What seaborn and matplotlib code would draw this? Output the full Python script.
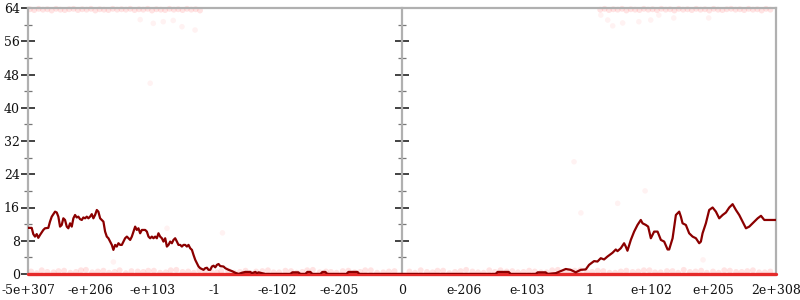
import matplotlib
matplotlib.use("Agg")
import matplotlib.pyplot as plt
from matplotlib.ticker import MultipleLocator
import seaborn as sns
import pandas as pd

# ---- data (x in tick-slot units: 0 = -5e+307 ... 6 = 0 ... 12 = 2e+308) ----
tick_labels = ["-5e+307", "-e+206", "-e+103", "-1", "-e-102", "-e-205", "0",
               "e-206", "e-103", "1", "e+102", "e+205", "2e+308"]

line_x = [0.000, 0.059, 0.085, 0.112, 0.140, 0.165, 0.193, 0.220, 0.246, 0.273,
          0.326, 0.353, 0.381, 0.434, 0.461, 0.487, 0.514, 0.541, 0.567, 0.594,
          0.622, 0.647, 0.675, 0.702, 0.728, 0.755, 0.782, 0.808, 0.835, 0.863,
          0.888, 0.916, 0.943, 0.969, 0.996, 1.023, 1.049, 1.076, 1.104, 1.129,
          1.157, 1.210, 1.237, 1.264, 1.290, 1.317, 1.345, 1.370, 1.398, 1.424,
          1.451, 1.478, 1.505, 1.531, 1.558, 1.586, 1.639, 1.666, 1.692, 1.719,
          1.746, 1.772, 1.799, 1.827, 1.880, 1.907, 1.933, 1.960, 1.987, 2.013,
          2.040, 2.067, 2.093, 2.120, 2.148, 2.173, 2.201, 2.228, 2.254, 2.281,
          2.308, 2.334, 2.361, 2.389, 2.414, 2.442, 2.469, 2.495, 2.522, 2.549,
          2.575, 2.602, 2.630, 2.655, 2.683, 2.710, 2.736, 2.763, 2.816, 2.843,
          2.871, 2.896, 2.924, 2.951, 2.977, 3.004, 3.031, 3.057, 3.084, 3.137,
          3.165, 3.218, 3.272, 3.325, 3.378, 3.432, 3.486, 3.566, 3.593, 3.647,
          3.674, 3.700, 3.754, 3.807, 4.209, 4.241, 4.337, 4.369, 4.450, 4.482,
          4.530, 4.562, 4.691, 4.723, 4.771, 4.803, 5.108, 5.141, 5.285, 5.317,
          6.000, 7.502, 7.534, 7.711, 7.743, 8.145, 8.177, 8.305, 8.337, 8.466,
          8.546, 8.627, 8.707, 8.787, 8.867, 8.948, 9.001, 9.081, 9.136, 9.189,
          9.242, 9.296, 9.377, 9.430, 9.457, 9.510, 9.563, 9.590, 9.617, 9.671,
          9.724, 9.778, 9.831, 9.859, 9.912, 9.949, 9.992, 10.045, 10.100, 10.153,
          10.206, 10.261, 10.286, 10.341, 10.394, 10.447, 10.474, 10.501, 10.554, 10.607,
          10.662, 10.715, 10.768, 10.795, 10.822, 10.875, 10.928, 10.983, 11.036, 11.089,
          11.144, 11.197, 11.250, 11.304, 11.357, 11.410, 11.465, 11.518, 11.571, 11.626,
          11.706, 11.759, 11.812, 11.871, 12.000]
line_y = [11.1, 11.1, 9.6, 9.0, 9.6, 8.7, 9.4, 10.0, 10.6, 11.0,
          11.1, 12.6, 13.8, 15.0, 14.8, 13.8, 11.4, 11.8, 13.4, 13.0,
          11.4, 11.0, 12.2, 11.4, 13.4, 14.2, 13.6, 13.8, 13.2, 13.0,
          13.6, 13.4, 13.8, 13.4, 13.8, 14.4, 13.4, 14.2, 15.4, 15.0,
          13.4, 12.6, 10.2, 9.0, 8.6, 7.8, 7.0, 5.8, 7.0, 6.6,
          7.4, 7.0, 7.0, 7.8, 8.6, 9.0, 8.2, 9.0, 10.2, 11.4,
          10.6, 11.0, 9.8, 10.6, 10.6, 10.2, 9.0, 8.6, 9.0, 8.6,
          9.0, 8.6, 9.8, 9.0, 8.6, 7.8, 8.6, 6.6, 7.0, 7.8,
          7.4, 8.2, 8.6, 7.8, 7.0, 7.0, 6.6, 7.0, 7.0, 6.6,
          7.0, 6.2, 5.8, 4.6, 3.4, 2.6, 1.8, 1.4, 1.0, 1.4,
          1.5, 1.0, 1.0, 1.8, 2.0, 1.6, 2.2, 2.4, 1.9, 1.8,
          1.4, 1.0, 0.7, 0.3, 0.0, 0.3, 0.5, 0.5, 0.2, 0.5,
          0.2, 0.4, 0.2, 0.0, 0.0, 0.4, 0.4, 0.0, 0.0, 0.5,
          0.5, 0.0, 0.0, 0.5, 0.5, 0.0, 0.0, 0.5, 0.5, 0.0,
          0.0, 0.0, 0.5, 0.5, 0.0, 0.0, 0.4, 0.4, 0.0, 0.2,
          0.7, 1.2, 1.0, 0.4, 1.0, 1.1, 2.2, 3.1, 3.0, 3.8,
          3.5, 4.2, 5.1, 5.9, 5.5, 6.2, 7.4, 6.6, 5.6, 8.2,
          10.2, 11.8, 13.0, 12.2, 11.8, 11.4, 8.6, 10.2, 10.2, 8.2,
          7.8, 5.9, 5.9, 8.6, 14.2, 15.0, 13.8, 12.2, 11.8, 9.8,
          9.0, 8.6, 7.4, 7.8, 9.8, 12.2, 15.4, 16.0, 15.0, 13.4,
          14.2, 14.8, 16.0, 16.8, 15.4, 14.2, 12.6, 11.0, 11.4, 12.2,
          13.4, 14.0, 13.0, 13.0, 13.0]

# faint background samples near zero
bottom_x = [0.05, 0.14, 0.22, 0.31, 0.41, 0.49, 0.58, 0.68, 0.77, 0.85, 0.93,
            1.03, 1.12, 1.21, 1.30, 1.39, 1.47, 1.57, 1.66, 1.76, 1.85, 1.93,
            2.02, 2.12, 2.21, 2.29, 2.38, 2.48, 2.57, 2.66, 2.75, 2.84, 2.94,
            3.03, 3.10, 3.21, 3.31, 3.40, 3.49, 3.57, 3.66, 3.76, 3.85, 3.94,
            4.03, 4.13, 4.22, 4.31, 4.40, 4.48, 4.57, 4.68, 4.78, 4.86, 4.95,
            5.05, 5.14, 5.24, 5.33, 5.41, 5.50, 5.60, 5.70, 5.79, 5.88,
            6.12, 6.21, 6.30, 6.40, 6.49, 6.57, 6.66, 6.76, 6.85, 6.94,
            7.03, 7.13, 7.22, 7.31, 7.40, 7.49, 7.58, 7.68, 7.77, 7.86, 7.95,
            8.04, 8.13, 8.23, 8.32, 8.41, 8.50, 8.60, 8.69, 8.77, 8.86, 8.96,
            9.05, 9.14, 9.23, 9.33, 9.42, 9.51, 9.60, 9.70, 9.79, 9.88, 9.97,
            10.06, 10.15, 10.25, 10.34, 10.43, 10.52, 10.62, 10.71, 10.80, 10.89,
            10.99, 11.08, 11.17, 11.26, 11.36, 11.45, 11.54, 11.63, 11.73, 11.82, 11.91]
bottom_y = [0.6, 0.2, 0.9, 0.5, 0.4, 0.7, 0.8, 0.3, 0.5, 0.9, 1.0,
            0.4, 0.6, 0.8, 0.3, 0.5, 0.9, 0.2, 0.7, 0.6, 0.5, 0.8,
            0.8, 0.3, 0.4, 0.9, 1.0, 0.5, 0.6, 0.3, 0.9, 0.6, 0.5,
            0.4, 0.7, 0.8, 0.3, 0.5, 0.8, 0.2, 0.6, 0.7, 0.9, 0.4,
            0.4, 0.8, 0.7, 0.3, 0.5, 0.9, 1.0, 0.4, 0.6, 0.5, 0.3,
            0.7, 0.8, 0.4, 0.5, 0.9, 0.9, 0.3, 0.4, 0.6, 0.7,
            0.6, 0.3, 0.9, 0.5, 0.4, 0.8, 0.8, 0.2, 0.5, 0.7, 1.0,
            0.6, 0.4, 0.3, 0.9, 0.5, 0.9, 0.6, 0.7, 0.4, 0.5,
            0.8, 0.6, 0.4, 0.4, 0.9, 1.0, 0.3, 0.6, 0.8, 0.9, 0.5,
            0.5, 0.8, 0.7, 0.3, 0.3, 0.6, 0.8, 0.5, 0.6, 0.9, 0.9,
            0.4, 0.4, 0.7, 0.7, 0.3, 1.0, 0.5, 0.6, 0.8, 0.3,
            0.6, 0.3, 0.9, 0.8, 0.5, 0.5, 0.7, 0.9, 0.4, 0.4, 0.6]

# faint background samples near 64
top_x = [0.03, 0.10, 0.17, 0.24, 0.31, 0.38, 0.45, 0.52, 0.59, 0.66, 0.73,
         0.80, 0.87, 0.94, 1.01, 1.08, 1.15, 1.22, 1.29, 1.36, 1.43, 1.50,
         1.57, 1.64, 1.71, 1.78, 1.85, 1.92, 1.99, 2.06, 2.13, 2.20, 2.27,
         2.34, 2.41, 2.48, 2.55, 2.62, 2.69, 2.76,
         9.18, 9.25, 9.32, 9.39, 9.46, 9.53, 9.60, 9.67, 9.74, 9.81, 9.88,
         9.95, 10.02, 10.09, 10.16, 10.23, 10.30, 10.37, 10.44, 10.51, 10.58,
         10.65, 10.72, 10.79, 10.86, 10.93, 11.00, 11.07, 11.14, 11.21, 11.28,
         11.35, 11.42, 11.49, 11.56, 11.63, 11.70, 11.77, 11.84, 11.91]
top_y = [63.7, 63.5, 63.8, 63.6, 63.7, 63.4, 63.8, 63.6, 63.5, 63.7, 63.8,
         63.5, 63.7, 63.6, 63.8, 63.4, 63.7, 63.6, 63.5, 63.8, 63.6, 63.7,
         63.6, 63.8, 63.5, 63.7, 63.6, 63.8, 63.4, 63.7, 63.6, 63.5, 63.8,
         63.6, 63.7, 63.5, 63.8, 63.6, 63.7, 63.4,
         63.6, 63.8, 63.5, 63.7, 63.6, 63.8, 63.4, 63.7, 63.6, 63.5, 63.8,
         63.6, 63.7, 63.5, 63.8, 63.6, 63.7, 63.4, 63.8, 63.6, 63.7,
         63.5, 63.8, 63.6, 63.7, 63.4, 63.8, 63.6, 63.5, 63.7, 63.8,
         63.6, 63.7, 63.5, 63.8, 63.6, 63.7, 63.4, 63.8, 63.6]

# sparse isolated samples
sparse_x = [1.80, 2.01, 2.17, 2.33, 2.47, 2.68, 1.96, 1.37, 2.23, 3.12,
            9.19, 9.30, 9.38, 9.54, 9.80, 9.99, 10.12, 10.36, 10.92,
            8.87, 9.46, 10.83, 9.90, 8.76]
sparse_y = [61.2, 60.3, 60.7, 61.0, 59.5, 58.7, 45.9, 2.9, 11.0, 9.9,
            62.3, 61.1, 59.7, 60.4, 60.7, 61.1, 62.3, 61.6, 61.6,
            14.7, 17.0, 3.4, 20.0, 27.0]

# ---- figure ----
sns.set_style("white")
plt.rcParams["font.family"] = ["DejaVu Serif"]

fig = plt.figure(figsize=(8, 3), dpi=100)
ax = fig.add_axes([28 / 800, 26 / 300, 748 / 800, 266 / 300])

pink = "#ff2a2a"
band = pd.DataFrame({"x": bottom_x + top_x, "y": bottom_y + top_y})
sns.scatterplot(data=band, x="x", y="y", ax=ax, color=pink, alpha=0.13,
                s=18, edgecolor="none", zorder=2, clip_on=False)
sparse = pd.DataFrame({"x": sparse_x, "y": sparse_y})
sns.scatterplot(data=sparse, x="x", y="y", ax=ax, color=pink, alpha=0.06,
                s=16, edgecolor="none", zorder=2)

ax.axhline(0, color="#e52a2a", lw=2.4, zorder=3, clip_on=False)

df = pd.DataFrame({"x": line_x, "y": line_y})
sns.lineplot(data=df, x="x", y="y", ax=ax, color="#8b0000", lw=1.6,
             zorder=4, sort=False)

ax.set_xlim(0, 12)
ax.set_ylim(0, 64)
ax.set_xlabel("")
ax.set_ylabel("")

spine_col = "#b0b0b0"
for side in ["left", "right", "top"]:
    ax.spines[side].set_color(spine_col)
    ax.spines[side].set_linewidth(1.6)
ax.spines["bottom"].set_visible(False)

ax.set_xticks(range(13))
ax.set_xticklabels(tick_labels)
ax.yaxis.set_major_locator(MultipleLocator(8))
ax.yaxis.set_minor_locator(MultipleLocator(4))

ax.tick_params(axis="x", direction="in", length=6, width=1.0, color="#222222",
               labelsize=9, pad=7, labelcolor="#111111")
ax.tick_params(axis="y", which="major", direction="inout", length=10, width=1.1,
               color="#111111", labelsize=9, pad=1, right=True, labelcolor="#111111")
ax.tick_params(axis="y", which="minor", direction="inout", length=6, width=0.9,
               color="#777777", right=True)

# centre axis at x = 0
axc = ax.twinx()
axc.set_ylim(0, 64)
for side in ["left", "top", "bottom"]:
    axc.spines[side].set_visible(False)
axc.spines["right"].set_position(("axes", 0.5))
axc.spines["right"].set_color(spine_col)
axc.spines["right"].set_linewidth(1.6)
axc.yaxis.set_major_locator(MultipleLocator(8))
axc.yaxis.set_minor_locator(MultipleLocator(4))
axc.tick_params(axis="y", which="major", direction="inout", length=10, width=1.1,
                color="#111111", labelright=False)
axc.tick_params(axis="y", which="minor", direction="inout", length=6, width=0.9,
                color="#777777")
axc.set_zorder(0)
ax.set_zorder(1)
ax.patch.set_visible(False)

fig.savefig("out.png", dpi=100, facecolor="white")
